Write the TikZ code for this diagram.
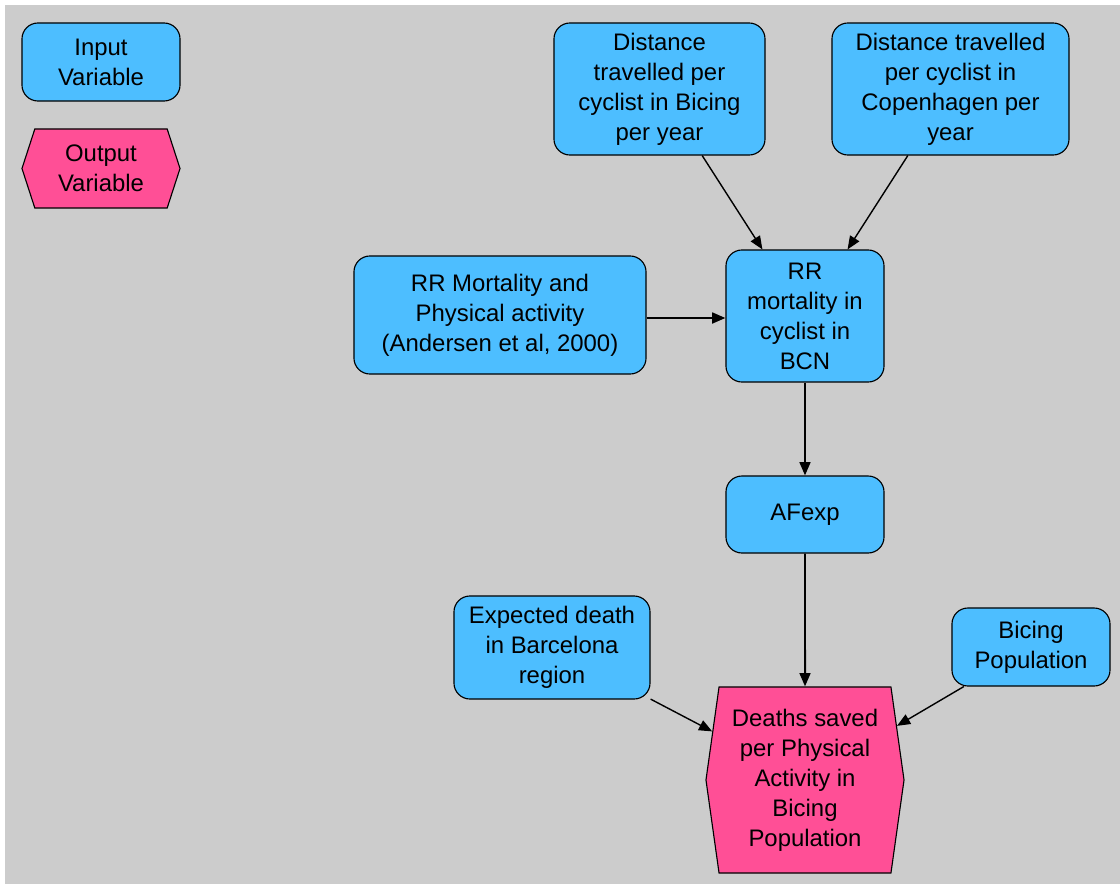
\documentclass[tikz,border=0pt]{standalone}
\usepackage{fontspec}
\setmainfont{Liberation Sans}
\usetikzlibrary{arrows.meta,shapes.symbols}

\definecolor{inblue}{RGB}{77,190,255}
\definecolor{outpink}{RGB}{255,79,150}
\definecolor{bggray}{RGB}{204,204,204}

\begin{document}
\begin{tikzpicture}[x=0.025cm,y=-0.025cm]
		\useasboundingbox (0,0) rectangle (1120,887);
		\fill[bggray] (5,5) rectangle (1120,884);
		\begin{scope}[every node/.style={draw=black,thick,align=center,inner sep=0pt,
				font=\fontsize{17}{21.3}\selectfont},
			invar/.style={fill=inblue,rounded corners=0.4cm},
			outvar/.style={fill=outpink,shape=signal,signal to=east and west,signal from=nowhere}]
			\node[invar,minimum width=3.95cm,minimum height=1.95cm] (input) at (101,62) {Input\\Variable};
			\node[outvar,signal pointer angle=144,minimum width=3.95cm,minimum height=1.975cm] (output) at (101,168.5) {Output\\Variable};
			\node[invar,minimum width=5.275cm,minimum height=3.3cm] (distB) at (659.5,89) {Distance\\travelled per\\cyclist in Bicing\\per year};
			\node[invar,minimum width=5.925cm,minimum height=3.3cm] (distC) at (950.5,89) {Distance travelled\\per cyclist in\\Copenhagen per\\year};
			\node[invar,minimum width=7.3cm,minimum height=2.95cm] (rrPA) at (500,315) {RR Mortality and\\Physical activity\\(Andersen et al, 2000)};
			\node[invar,minimum width=3.95cm,minimum height=3.3cm] (rrBCN) at (805,316) {RR\\mortality in\\cyclist in\\BCN};
			\node[invar,minimum width=3.95cm,minimum height=1.925cm] (AFexp) at (805,514.5) {AFexp};
			\node[invar,minimum width=4.9cm,minimum height=2.575cm] (expD) at (552,647.5) {Expected death\\in Barcelona\\region};
			\node[invar,minimum width=3.95cm,minimum height=1.95cm] (bicPop) at (1031,647) {Bicing\\Population};
			\node[outvar,signal pointer angle=164,minimum width=4.95cm,minimum height=4.65cm] (deaths) at (805,780) {Deaths saved\\per Physical\\Activity in\\Bicing\\Population};
		\end{scope}
		\begin{scope}[>={Triangle[length=0.33cm,width=0.27cm]},
			every edge/.style={draw=black,line width=1pt}]
			\path [->] (distB) edge (rrBCN);
			\path [->] (distC) edge (rrBCN);
			\path [->] ([yshift=-0.075cm]rrPA.east) edge[line width=1.6pt] ([yshift=-0.075cm]rrPA.east -| rrBCN.west);
			\path [->] (rrBCN) edge[line width=1.4pt] (AFexp);
			\path [->] (AFexp) edge[line width=1.4pt] (deaths);
			\path [->] (expD) edge (deaths);
			\path [->] (bicPop) edge (deaths);
		\end{scope}
	\end{tikzpicture}
\end{document}
